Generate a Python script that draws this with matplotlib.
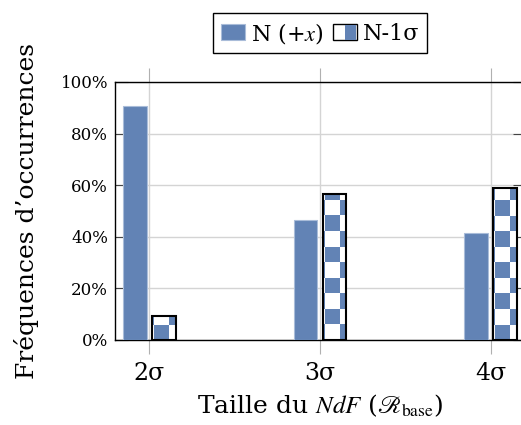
import numpy as np
import matplotlib
import matplotlib.pyplot as plt
from matplotlib.patches import Rectangle
from matplotlib.colors import ListedColormap
from matplotlib.legend_handler import HandlerBase

positions = [2, 3, 4]
tick_labels = ['2σ', '3σ', '4σ']
n_plus_x = [90.8, 46.5, 41.4]
n_minus_1sigma = [9.3, 56.6, 58.8]

blue = '#6283b5'
plt.rcParams['font.family'] = ['DejaVu Serif']
plt.rcParams['mathtext.fontset'] = 'stix'


class CheckerHandler(HandlerBase):
    def create_artists(self, legend, orig_handle, xdescent, ydescent,
                       width, height, fontsize, trans):
        r1 = Rectangle((-xdescent, -ydescent), width, height, facecolor='white',
                       edgecolor='black', lw=1.0, transform=trans)
        r2 = Rectangle((-xdescent + width * 0.5, -ydescent + 0.5), width * 0.45,
                       height - 1, facecolor=blue, edgecolor='none', transform=trans)
        return [r1, r2]


fig = plt.figure(figsize=(5.21, 4.25), dpi=100)
ax = fig.add_axes([115 / 521, 85 / 425, 410 / 521, 258 / 425])

x = np.array(positions, dtype=float)
bw = 0.14
off = 0.085

b1 = ax.bar(x - off, n_plus_x, bw, color=blue, edgecolor='#a9bcd9', lw=0.8, zorder=3)
b2 = ax.bar(x + off, n_minus_1sigma, bw, facecolor='none', edgecolor='black', lw=1.5, zorder=4)

# checkerboard fill, clipped to each bar
cmap = ListedColormap([blue, 'white'])
cw, ch = 0.0906, 6.0
for i, (p, patch) in enumerate(zip(x, b2.patches)):
    h = patch.get_height()
    nrows = int(np.ceil(h / ch)) + 1
    x0 = p + 0.117 - 2 * cw
    grid = np.array([[(c + r + i + 1) % 2 for c in range(3)] for r in range(nrows)])
    im = ax.imshow(grid, cmap=cmap, vmin=0, vmax=1, origin='lower', aspect='auto',
                   interpolation='nearest', extent=[x0, x0 + 3 * cw, 0, nrows * ch], zorder=3.5)
    im.set_clip_path(patch)

ax.set_xlim(1.8, 4.2)
ax.set_ylim(0, 100)
ax.set_xticks(positions)
ax.set_xticklabels(tick_labels, fontsize=17)
ax.set_yticks(np.arange(0, 101, 20))
ax.set_yticklabels([f'{v}%' for v in range(0, 101, 20)], fontsize=12)
ax.grid(True, color='#d4d4d4', lw=1.0, zorder=0)
ax.set_axisbelow(True)
ax.tick_params(axis='x', direction='out', length=10, color='#b0b0b0', top=True, pad=6)
ax.tick_params(axis='y', direction='in', length=9, color='#444444', right=True, pad=5)
for s in ax.spines.values():
    s.set_linewidth(1.0)

ax.set_ylabel("Fréquences d’occurrences", fontsize=18)
ax.yaxis.set_label_coords(-0.185, 0.5)
ax.set_xlabel(r'Taille du $\mathit{NdF}$ ($\mathscr{R}_{\mathrm{base}}$)', fontsize=18)
ax.xaxis.set_label_coords(0.5, -0.205)

fig.legend([b1, b2], [r'N (+$x$)', 'N-1σ'], loc='center', ncol=2,
           bbox_to_anchor=(320 / 521, 1 - 33 / 425), fontsize=16,
           frameon=True, fancybox=False, edgecolor='black', framealpha=1,
           handlelength=1.1, handleheight=0.75, handletextpad=0.25,
           columnspacing=0.4, borderpad=0.35, borderaxespad=0,
           handler_map={b2: CheckerHandler()})

fig.savefig('out.png', dpi=100)
